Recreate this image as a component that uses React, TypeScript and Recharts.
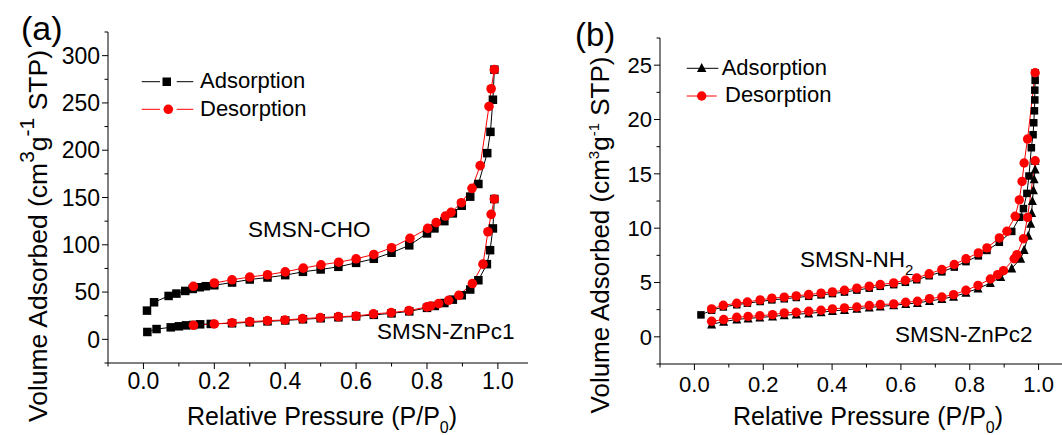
import React from 'react';
import { ComposedChart, Line, XAxis, YAxis, Label } from 'recharts';

const FONT = '"Liberation Sans", Arial, Helvetica, sans-serif';
const RED = '#ff0000';

// (a) SMSN-CHO
const choAdsP = [0.010, 0.030, 0.071, 0.093, 0.118, 0.139, 0.159, 0.176, 0.200, 0.250, 0.300, 0.350, 0.400, 0.450, 0.500, 0.550, 0.600, 0.650, 0.700, 0.750, 0.800, 0.821, 0.849, 0.873, 0.898, 0.922, 0.945, 0.970, 0.979, 0.986, 0.990];
const choAdsV = [30.4, 39.2, 45.9, 48.4, 51.2, 53.3, 55.1, 56.2, 57.2, 60.1, 63.3, 65.4, 67.9, 71.4, 73.9, 76.7, 80.9, 85.2, 91.6, 99.4, 112.0, 117.3, 125.0, 133.2, 141.3, 150.9, 164.3, 196.9, 219.4, 253.4, 285.2];
const choDesP = [0.990, 0.981, 0.975, 0.950, 0.927, 0.897, 0.868, 0.852, 0.826, 0.802, 0.752, 0.700, 0.650, 0.600, 0.551, 0.501, 0.451, 0.400, 0.350, 0.300, 0.250, 0.200, 0.141];
const choDesV = [285.2, 265.0, 246.3, 183.7, 159.7, 144.5, 134.3, 130.4, 123.4, 117.3, 106.8, 96.9, 89.8, 85.2, 81.6, 78.8, 75.3, 71.4, 68.3, 65.9, 63.0, 59.6, 56.1];

// (a) SMSN-ZnPc1
const zn1AdsP = [0.011, 0.037, 0.077, 0.100, 0.120, 0.140, 0.160, 0.190, 0.250, 0.300, 0.350, 0.400, 0.450, 0.500, 0.550, 0.600, 0.650, 0.700, 0.750, 0.800, 0.822, 0.849, 0.873, 0.898, 0.922, 0.945, 0.969, 0.978, 0.986, 0.990];
const zn1AdsV = [7.8, 10.9, 12.7, 13.8, 14.8, 15.2, 15.9, 16.3, 17.0, 18.0, 19.0, 20.0, 21.2, 22.3, 23.3, 24.3, 25.9, 27.5, 29.6, 33.3, 35.3, 38.4, 42.0, 46.6, 52.7, 62.5, 79.5, 94.3, 117.3, 148.4];
const zn1DesP = [0.990, 0.981, 0.972, 0.958, 0.928, 0.890, 0.861, 0.833, 0.810, 0.800, 0.749, 0.699, 0.649, 0.600, 0.550, 0.499, 0.449, 0.399, 0.350, 0.300, 0.250, 0.200, 0.141];
const zn1DesV = [148.4, 132.2, 113.8, 79.5, 59.0, 46.6, 41.3, 37.8, 35.3, 34.3, 30.4, 28.3, 26.9, 24.7, 24.0, 23.0, 21.9, 20.5, 19.8, 18.7, 17.6, 16.3, 14.9];

// (b) SMSN-NH2
const nh2AdsP = [0.019, 0.050, 0.084, 0.123, 0.154, 0.191, 0.225, 0.261, 0.296, 0.332, 0.368, 0.401, 0.436, 0.472, 0.508, 0.540, 0.579, 0.613, 0.646, 0.682, 0.719, 0.755, 0.789, 0.825, 0.850, 0.886, 0.922, 0.945, 0.956, 0.966, 0.972, 0.979, 0.984, 0.986, 0.988, 0.989, 0.989, 0.990, 0.990];
const nh2AdsV = [2.02, 2.45, 2.75, 2.95, 3.10, 3.25, 3.40, 3.50, 3.62, 3.73, 3.86, 3.98, 4.12, 4.30, 4.48, 4.65, 4.80, 5.02, 5.25, 5.62, 5.98, 6.42, 6.92, 7.45, 7.95, 8.70, 9.70, 11.0, 11.8, 13.2, 14.8, 17.4, 18.6, 19.7, 20.8, 21.8, 22.7, 23.6, 24.3];
const nh2DesP = [0.990, 0.968, 0.958, 0.952, 0.944, 0.932, 0.908, 0.886, 0.850, 0.825, 0.789, 0.755, 0.719, 0.682, 0.646, 0.613, 0.579, 0.540, 0.508, 0.472, 0.436, 0.401, 0.368, 0.332, 0.296, 0.261, 0.225, 0.191, 0.154, 0.123, 0.084, 0.050];
const nh2DesV = [24.3, 18.2, 16.0, 14.3, 12.6, 11.09, 9.71, 9.10, 8.19, 7.73, 7.18, 6.66, 6.20, 5.80, 5.43, 5.21, 4.97, 4.81, 4.66, 4.48, 4.29, 4.14, 4.02, 3.89, 3.77, 3.65, 3.56, 3.40, 3.21, 3.09, 2.90, 2.57];

// (b) SMSN-ZnPc2
const zn2AdsP = [0.050, 0.085, 0.123, 0.156, 0.190, 0.227, 0.261, 0.296, 0.332, 0.368, 0.401, 0.436, 0.472, 0.508, 0.540, 0.579, 0.614, 0.648, 0.683, 0.719, 0.753, 0.789, 0.824, 0.860, 0.890, 0.922, 0.948, 0.958, 0.970, 0.977, 0.980, 0.982, 0.985, 0.987, 0.990, 0.990];
const zn2AdsV = [1.15, 1.40, 1.60, 1.70, 1.78, 1.88, 1.98, 2.07, 2.16, 2.26, 2.38, 2.48, 2.58, 2.70, 2.80, 2.90, 3.02, 3.12, 3.30, 3.48, 3.70, 4.05, 4.45, 4.95, 5.50, 6.30, 7.20, 8.00, 9.30, 10.4, 11.4, 12.5, 13.5, 14.5, 15.4, 16.2];
const zn2DesP = [0.990, 0.968, 0.956, 0.937, 0.929, 0.898, 0.881, 0.860, 0.824, 0.789, 0.753, 0.719, 0.683, 0.648, 0.614, 0.579, 0.540, 0.508, 0.472, 0.436, 0.401, 0.368, 0.332, 0.296, 0.261, 0.227, 0.190, 0.156, 0.123, 0.085, 0.050];
const zn2DesV = [16.2, 10.99, 9.03, 7.56, 7.19, 6.09, 5.72, 5.32, 4.74, 4.28, 3.88, 3.67, 3.51, 3.27, 3.18, 3.03, 2.97, 2.88, 2.75, 2.66, 2.57, 2.45, 2.35, 2.26, 2.20, 2.04, 1.95, 1.88, 1.80, 1.59, 1.43];

// axis ticks
const xTicks = [-0.1, 0, 0.1, 0.2, 0.3, 0.4, 0.5, 0.6, 0.7, 0.8, 0.9, 1.0];
const xMajor = [0, 0.2, 0.4, 0.6, 0.8, 1.0];
const yTicksA = [-25, 0, 25, 50, 75, 100, 125, 150, 175, 200, 225, 250, 275, 300, 325];
const yMajorA = [0, 50, 100, 150, 200, 250, 300];
const yTicksB = [-2.5, 0, 2.5, 5, 7.5, 10, 12.5, 15, 17.5, 20, 22.5, 25, 27.5];
const yMajorB = [0, 5, 10, 15, 20, 25];

const toPoints = (p: number[], v: number[]) => p.map((x, i) => ({ p: x, v: v[i] }));
const isIn = (list: number[], val: number) => list.some((m) => Math.abs(m - val) < 1e-6);

const squareDot = (size: number) => (props: any) => {
  const { cx, cy, index } = props;
  if (cx == null || cy == null) return <g key={index} />;
  return <rect key={index} x={cx - size / 2} y={cy - size / 2} width={size} height={size} fill='#000' />;
};

const circleDot = (r: number) => (props: any) => {
  const { cx, cy, index } = props;
  if (cx == null || cy == null) return <g key={index} />;
  return <circle key={index} cx={cx} cy={cy} r={r} fill={RED} />;
};

const triangleDot = (s: number) => (props: any) => {
  const { cx, cy, index } = props;
  if (cx == null || cy == null) return <g key={index} />;
  const h = s * 0.9;
  return (
    <polygon
      key={index}
      points={`${cx},${cy - h / 2 - 1} ${cx - s / 2},${cy + h / 2} ${cx + s / 2},${cy + h / 2}`}
      fill='#000'
    />
  );
};

// tick line + label drawn by hand so that minor ticks are shorter
const xTick = (fs: number, labelDy: number) => (props: any) => {
  const { x, y, payload } = props;
  const major = isIn(xMajor, payload.value);
  return (
    <g>
      <line x1={x} x2={x} y1={y} y2={y + (major ? 6 : 3.5)} stroke='#000' />
      {major && (
        <text x={x} y={y + labelDy} textAnchor='middle' fontSize={fs} fontFamily={FONT} fill='#000'>
          {payload.value.toFixed(1)}
        </text>
      )}
    </g>
  );
};

const yTick = (majors: number[], fs: number) => (props: any) => {
  const { x, y, payload } = props;
  const major = isIn(majors, payload.value);
  return (
    <g>
      <line x1={x - (major ? 6 : 3.5)} x2={x} y1={y} y2={y} stroke='#000' />
      {major && (
        <text x={x - 8} y={y + fs * 0.36} textAnchor='end' fontSize={fs} fontFamily={FONT} fill='#000'>
          {payload.value}
        </text>
      )}
    </g>
  );
};

const xTitle = (cx: number, baseline: number) => () => (
  <text x={cx} y={baseline} textAnchor='middle' fontSize={25} fontFamily={FONT} fill='#000'>
    Relative Pressure (P/P
    <tspan dy={8} fontSize={16}>0</tspan>
    <tspan dy={-8}>)</tspan>
  </text>
);

const yTitle = (bx: number, cy: number, fs: number, sup: number, shift: number) => () => (
  <text
    transform={`translate(${bx},${cy}) rotate(-90)`}
    textAnchor='middle'
    fontSize={fs}
    fontFamily={FONT}
    fill='#000'
  >
    Volume Adsorbed (cm
    <tspan dy={-shift} fontSize={sup}>3</tspan>
    <tspan dy={shift}>g</tspan>
    <tspan dy={-shift} fontSize={sup}>-1</tspan>
    <tspan dy={shift}> STP)</tspan>
  </text>
);

function PanelA() {
  return (
    <ComposedChart width={540} height={435} margin={{ top: 32, right: 12, bottom: 0, left: 0 }}>
      <XAxis
        dataKey='p'
        type='number'
        domain={[-0.1, 1.085]}
        ticks={xTicks}
        interval={0}
        height={72}
        tickSize={0}
        tickMargin={0}
        tickLine={false}
        axisLine={{ stroke: '#000' }}
        tick={xTick(23, 26)}
        allowDataOverflow
      >
        <Label content={xTitle(322, 425)} />
      </XAxis>
      <YAxis
        dataKey='v'
        type='number'
        domain={[-25, 325]}
        ticks={yTicksA}
        interval={0}
        width={108}
        tickSize={0}
        tickMargin={0}
        tickLine={false}
        axisLine={{ stroke: '#000' }}
        tick={yTick(yMajorA, 23)}
        allowDataOverflow
      >
        <Label content={yTitle(47, 236, 26.5, 21, 13)} />
      </YAxis>
      <Line data={toPoints(choAdsP, choAdsV)} dataKey='v' stroke='#000' strokeWidth={1} dot={squareDot(8.5)} activeDot={false} isAnimationActive={false} />
      <Line data={toPoints(zn1AdsP, zn1AdsV)} dataKey='v' stroke='#000' strokeWidth={1} dot={squareDot(8.5)} activeDot={false} isAnimationActive={false} />
      <Line data={toPoints(choDesP, choDesV)} dataKey='v' stroke={RED} strokeWidth={1} dot={circleDot(4.8)} activeDot={false} isAnimationActive={false} />
      <Line data={toPoints(zn1DesP, zn1DesV)} dataKey='v' stroke={RED} strokeWidth={1} dot={circleDot(4.8)} activeDot={false} isAnimationActive={false} />
    </ComposedChart>
  );
}

function PanelB() {
  return (
    <ComposedChart width={540} height={435} margin={{ top: 38, right: 7, bottom: 0, left: 0 }}>
      <XAxis
        dataKey='p'
        type='number'
        domain={[-0.1, 1.1]}
        ticks={xTicks}
        interval={0}
        height={71}
        tickSize={0}
        tickMargin={0}
        tickLine={false}
        axisLine={{ stroke: '#000' }}
        tick={xTick(22, 27.5)}
        allowDataOverflow
      >
        <Label content={xTitle(328, 425)} />
      </XAxis>
      <YAxis
        dataKey='v'
        type='number'
        domain={[-2.5, 27.5]}
        ticks={yTicksB}
        interval={0}
        width={120}
        tickSize={0}
        tickMargin={0}
        tickLine={false}
        axisLine={{ stroke: '#000' }}
        tick={yTick(yMajorB, 22)}
        allowDataOverflow
      >
        <Label content={yTitle(69, 235, 26, 15, 10)} />
      </YAxis>
      <Line data={toPoints(nh2AdsP, nh2AdsV)} dataKey='v' stroke='#000' strokeWidth={1} dot={squareDot(7.5)} activeDot={false} isAnimationActive={false} />
      <Line data={toPoints(zn2AdsP, zn2AdsV)} dataKey='v' stroke='#000' strokeWidth={1} dot={triangleDot(9)} activeDot={false} isAnimationActive={false} />
      <Line data={toPoints(nh2DesP, nh2DesV)} dataKey='v' stroke={RED} strokeWidth={1} dot={circleDot(4.7)} activeDot={false} isAnimationActive={false} />
      <Line data={toPoints(zn2DesP, zn2DesV)} dataKey='v' stroke={RED} strokeWidth={1} dot={circleDot(4.7)} activeDot={false} isAnimationActive={false} />
    </ComposedChart>
  );
}

// legends, panel letters and curve names
function Overlay() {
  const t = { fontFamily: FONT, fill: '#000' };
  return (
    <svg width={1062} height={435} style={{ position: 'absolute', left: 0, top: 0, pointerEvents: 'none' }}>
      <text x={21} y={40} fontSize={34} {...t}>(a)</text>
      <line x1={141.7} x2={160} y1={81.7} y2={81.7} stroke='#000' />
      <rect x={162.5} y={77.5} width={8.5} height={8.5} fill='#000' />
      <line x1={176.7} x2={193.3} y1={81.7} y2={81.7} stroke='#000' />
      <text x={200} y={88} fontSize={22} {...t}>Adsorption</text>
      <line x1={141.7} x2={160} y1={109.3} y2={109.3} stroke={RED} />
      <circle cx={168.3} cy={109.3} r={4.8} fill={RED} />
      <line x1={176.7} x2={193.3} y1={109.3} y2={109.3} stroke={RED} />
      <text x={200} y={115.5} fontSize={22} {...t}>Desorption</text>
      <text x={248} y={237} fontSize={22.5} {...t}>SMSN-CHO</text>
      <text x={377} y={339} fontSize={22.5} {...t}>SMSN-ZnPc1</text>

      <text x={575} y={46} fontSize={33} {...t}>(b)</text>
      <line x1={686.7} x2={718.3} y1={68.3} y2={68.3} stroke='#000' />
      <polygon points='701.7,63 697,72 706.4,72' fill='#000' />
      <text x={721.7} y={74.5} fontSize={22} {...t}>Adsorption</text>
      <line x1={686.7} x2={716.7} y1={96} y2={96} stroke={RED} />
      <circle cx={701.7} cy={96} r={4.7} fill={RED} />
      <text x={725} y={102} fontSize={22} {...t}>Desorption</text>
      <text x={800} y={266.7} fontSize={22.5} {...t}>
        SMSN-NH<tspan dy={8} fontSize={15}>2</tspan>
      </text>
      <text x={895} y={341.7} fontSize={22.5} {...t}>SMSN-ZnPc2</text>
    </svg>
  );
}

export default function App() {
  return (
    <div
      style={{
        position: 'fixed',
        left: 0,
        top: 0,
        width: 1062,
        height: 435,
        overflow: 'hidden',
        background: '#fff',
        fontFamily: FONT,
      }}
    >
      <div style={{ position: 'absolute', left: 0, top: 0 }}>
        <PanelA />
      </div>
      <div style={{ position: 'absolute', left: 540, top: 0 }}>
        <PanelB />
      </div>
      <Overlay />
    </div>
  );
}
